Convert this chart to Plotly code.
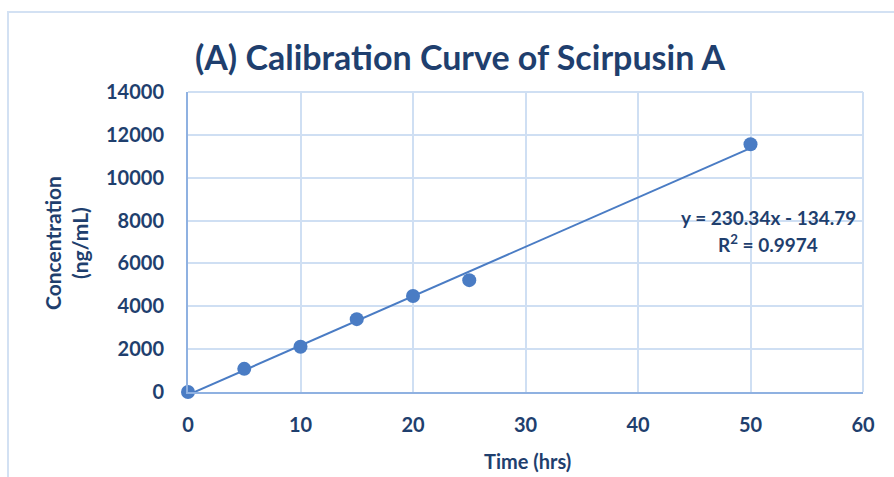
import plotly.graph_objects as go

time_hrs = [0, 5, 10, 15, 20, 25, 50]
concentration = [0, 1080, 2110, 3400, 4480, 5220, 11560]
slope = 230.34
intercept = -134.79
r_squared = 0.9974
trend_x = [0, 50]
trend_y = [intercept + slope * x for x in trend_x]

x_ticks = [0, 10, 20, 30, 40, 50, 60]
y_ticks = [0, 2000, 4000, 6000, 8000, 10000, 12000, 14000]

TXT = "#1F3F6E"
FONT = "Lato, 'Open Sans', sans-serif"
BLUE = "#4A7CC4"

fig = go.Figure()
fig.add_trace(go.Scatter(x=trend_x, y=trend_y, mode="lines",
                         line=dict(color=BLUE, width=2), showlegend=False, hoverinfo="skip"))
fig.add_trace(go.Scatter(x=time_hrs, y=concentration, mode="markers",
                         marker=dict(color=BLUE, size=14), showlegend=False, cliponaxis=False))

W, H = 894, 477
L, R, T, B = 188, 863, 92, 392
pw, ph = R - L, B - T

def px(x):
    return (x - L) / pw

def py(y):
    return (B - y) / ph

fig.update_layout(
    width=W, height=H,
    margin=dict(l=L, r=W - R, t=T, b=H - B, autoexpand=False),
    paper_bgcolor="white", plot_bgcolor="white",
    title=dict(text="<b>(A) Calibration Curve of Scirpusin A</b>",
               x=460 / W, xanchor="center",
               y=1 - 58 / H, yanchor="middle",
               font=dict(family=FONT, size=34, color=TXT), automargin=False),
    xaxis=dict(range=[0, 60], tickvals=x_ticks, ticktext=[f"<b>{v}</b>" for v in x_ticks],
               showgrid=True, gridcolor="#CFDFF3", gridwidth=2,
               showline=True, linecolor="#8FB1E1", linewidth=2, zeroline=False,
               ticks="", ticklabelstandoff=14, automargin=False,
               tickfont=dict(family=FONT, size=20, color=TXT)),
    yaxis=dict(range=[0, 14000], tickvals=y_ticks, ticktext=[f"<b>{v}</b>" for v in y_ticks],
               showgrid=True, gridcolor="#CFDFF3", gridwidth=2,
               showline=True, linecolor="#8FB1E1", linewidth=2, zeroline=False,
               ticks="", ticklabelstandoff=18, automargin=False,
               tickfont=dict(family=FONT, size=20, color=TXT)),
    shapes=[
        dict(type="line", xref="paper", yref="paper", x0=1, x1=1, y0=0, y1=1,
             line=dict(color="#CFDFF3", width=2)),
        dict(type="line", xref="paper", yref="paper", x0=0, x1=1, y0=1, y1=1,
             line=dict(color="#CFDFF3", width=2)),
        dict(type="rect", xref="paper", yref="paper", x0=px(8), x1=px(910),
             y0=py(490), y1=py(12), line=dict(color="#D3E1F3", width=2), layer="below"),
    ],
    annotations=[
        dict(xref="paper", yref="paper", x=px(768), y=py(217), showarrow=False,
             xanchor="center", yanchor="middle",
             text=f"<b>y = {slope}x - {abs(intercept)}</b>",
             font=dict(family=FONT, size=19, color=TXT)),
        dict(xref="paper", yref="paper", x=px(768), y=py(244), showarrow=False,
             xanchor="center", yanchor="middle",
             text=f"<b>R<sup>2</sup> = {r_squared}</b>",
             font=dict(family=FONT, size=19, color=TXT)),
        dict(xref="paper", yref="paper", x=px(527), y=py(461), showarrow=False,
             xanchor="center", yanchor="middle",
             text="<b>Time (hrs)</b>",
             font=dict(family=FONT, size=20, color=TXT)),
        dict(xref="paper", yref="paper", x=px(66), y=py(243), showarrow=False,
             xanchor="center", yanchor="middle",
             text="<b>Concentration<br>(ng/mL)</b>", textangle=-90,
             font=dict(family=FONT, size=21, color=TXT)),
    ],
)

fig.write_html("out.html", config={"displayModeBar": False},
               post_script="document.body.style.margin='0';")
